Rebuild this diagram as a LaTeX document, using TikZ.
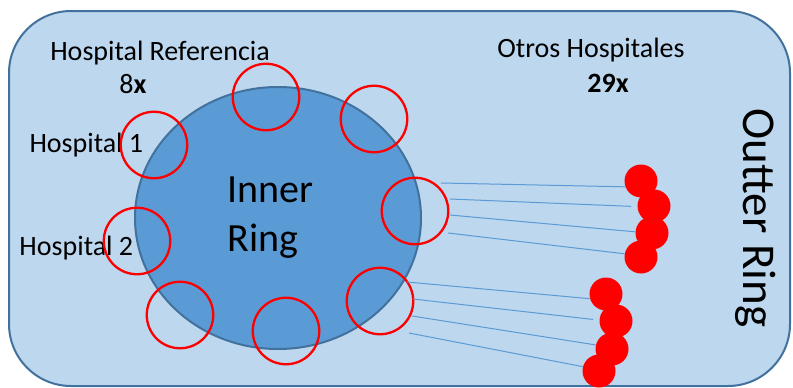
\documentclass[tikz,border=0pt]{standalone}
\usepackage{fontspec}
\setmainfont{Carlito}
\usetikzlibrary{shapes.geometric}
\definecolor{paleblue}{HTML}{BDD7EE}
\definecolor{midblue}{HTML}{5B9BD5}
\definecolor{edgeblue}{HTML}{41719C}
\tikzset{
every picture/.style={
line width=1pt
}}

\begin{document}
\begin{tikzpicture}[x=1pt, y=-1pt,
member/.style = {circle, draw=red, line width=2.3pt, minimum size=66.5pt, inner sep=0pt},
site/.style = {circle, fill=red, minimum size=33pt, inner sep=0pt},
link/.style = {draw=midblue, line width=1pt},
tag/.style = {font=\fontsize{28}{33}\selectfont, inner sep=0pt, anchor=base}]

  \useasboundingbox (0,0) rectangle (793,388);
  \draw[draw=edgeblue, fill=paleblue, line width=2pt, rounded corners=62pt] (9,11) rectangle (790,386);

  \node (ring) [ellipse, draw=edgeblue, fill=midblue, line width=2pt,
    minimum width=286pt, minimum height=262pt, inner sep=0pt] at (278,218) {};
  \node (core) [anchor=base west, align=left, inner sep=0pt,
    font=\fontsize{40}{49}\selectfont] at (227,251) {Inner\\Ring};

  \node (hq)      [tag] at (160,60) {Hospital Referencia};
  \node (hqcount) [tag] at (133,93) {8\textbf{x}};
  \node (h1)      [tag, anchor=base west] at (29,152) {Hospital 1};
  \node (h2)      [tag, anchor=base west] at (19,255) {Hospital 2};
  \node (others)  [tag] at (591,57) {Otros Hospitales};
  \node (ocount)  [tag] at (608,92) {\textbf{29x}};
  \node (outer)   [tag, rotate=-90, font=\fontsize{47}{50}\selectfont] at (743,218) {Outter Ring};

  % members of the inner ring
  \foreach \p [count=\i] in {(266,97), (374,119), (154,145), (415,211),
                             (137,241), (180,315), (286,331), (380,301)}
    \node (m\i) [member] at \p {};

  % hospitals of the outer ring
  \foreach \p [count=\i] in {(641,181), (654,206), (652,233), (641,257),
                             (606,294), (616,321), (612,349), (599,371)}
    \node (d\i) [site] at \p {};

  \coordinate (s1) at (441,183);
  \coordinate (s2) at (450,199);
  \coordinate (s3) at (450,215);
  \coordinate (s4) at (448,233);
  \coordinate (s5) at (407,282);
  \coordinate (s6) at (413,299);
  \coordinate (s7) at (412,316);
  \coordinate (s8) at (409,333);

  \foreach \i/\a/\g in {1/200/0, 2/182/6, 3/176/0, 4/169/0,
                        5/196/0, 6/177/6, 7/166/0, 8/165/0}
    \draw[link, shorten >=\g pt] (s\i) -- (d\i.\a);

\end{tikzpicture}
\end{document}
